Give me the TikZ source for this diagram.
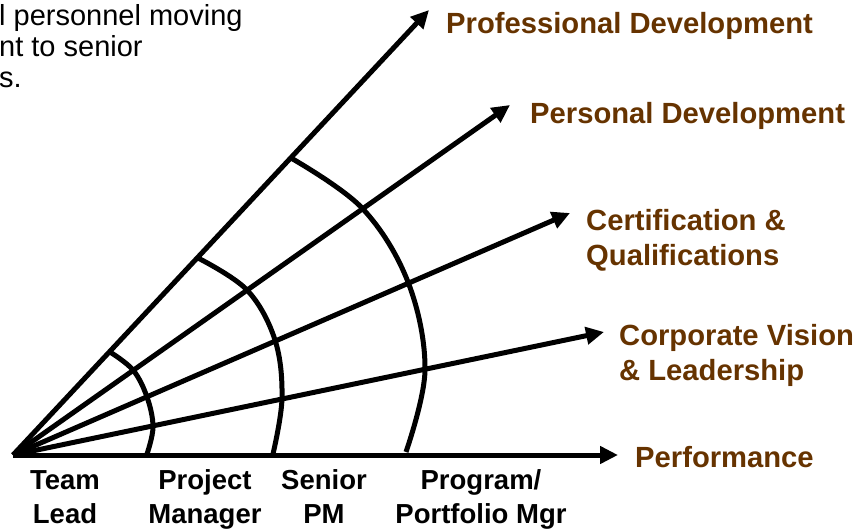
\documentclass[tikz,border=0pt]{standalone}
\usepackage{fontspec}
\setmainfont{Liberation Sans}
\usepackage{tikz}
\usetikzlibrary{positioning, arrows.meta}
\definecolor{goalbrown}{RGB}{102,51,0}
\tikzset{
    axis/.style={line width=5pt, -{Triangle[length=18pt, width=17pt]}},
    ring/.style={line width=5pt},
    goal/.style={font=\fontsize{29.2}{35}\selectfont\bfseries, text=goalbrown, align=left, inner sep=0pt, anchor=base west},
    role/.style={font=\fontsize{27.5}{34}\selectfont\bfseries, align=center, inner sep=0pt, anchor=base},
}

\begin{document}
\begin{tikzpicture}[x=1pt, y=-1pt]
    \tikzset{
      every node/.append style={inner sep=0pt}
    }
    \useasboundingbox (0,0) rectangle (862,530);

    % clipped note, top left (base = last line)
    \node[font=\fontsize{29}{31}\selectfont, align=left, anchor=base west] (note) at (-1,87) {l personnel moving\\nt to senior\\s.};

    \coordinate (o) at (13,455);
    \coordinate (perf) at (618,455);
    \coordinate (corp) at (604,332);
    \coordinate (cert) at (570,213);
    \coordinate (pers) at (510,105);
    \coordinate (prof) at (429,10);

    \draw[axis] (o) -- (perf);
    \draw[axis] (o) -- (corp);
    \draw[axis] (o) -- (cert);
    \draw[axis] (o) -- (pers);
    \draw[axis] (o) -- (prof);

    %\draw[ring] (o) ++(0:142) arc (0:46.5:142);
    \draw[ring] plot[smooth, tension=0.6] coordinates {(110,352) (133,370) (147,397) (153,427) (147,454)};
    \draw[ring] plot[smooth, tension=0.6] coordinates {(198,258) (247,290) (275,340) (282,398) (273,454)};
    \draw[ring] plot[smooth, tension=0.6] coordinates {(291,158) (362,208) (408,282) (425,370) (406,452)};

    \node[goal] (lprof) at (446,33) {Professional Development};
    \node[goal] (lpers) at (530,123) {Personal Development};
    \node[goal] (lcert) at (586,265) {Certification \&\\Qualifications};
    \node[goal] (lcorp) at (619,380) {Corporate Vision\\\& Leadership};
    \node[goal] (lperf) at (635,467) {Performance};

    \node[role] (lead) at (65,523) {Team\\Lead};
    \node[role] (pm) at (205,523) {Project\\Manager};
    \node[role] (spm) at (324,523) {Senior\\PM};
    \node[role] (ppm) at (481,523) {Program/\\Portfolio Mgr};
\end{tikzpicture}
\end{document}
